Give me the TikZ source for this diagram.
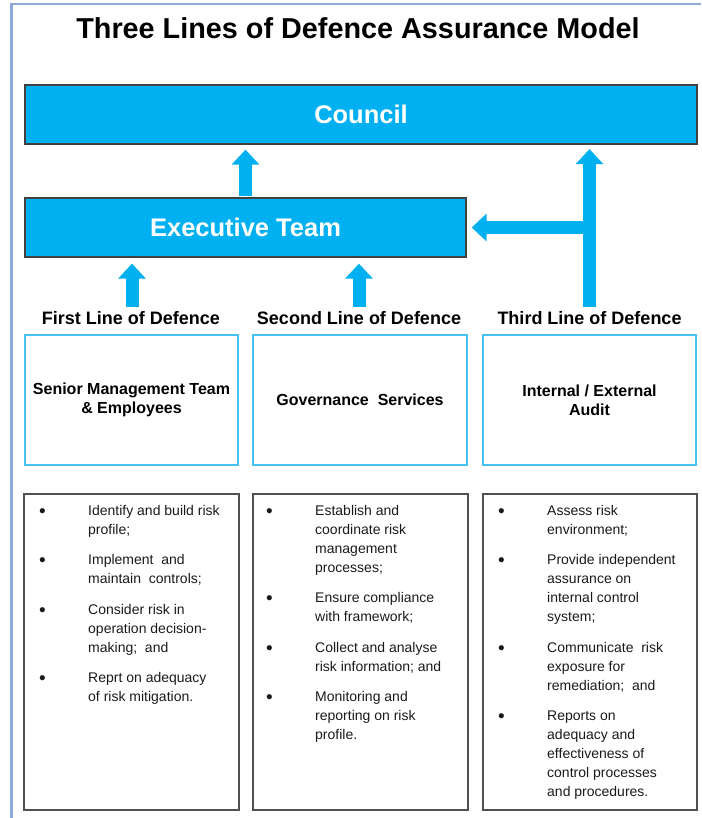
\documentclass[tikz,border=0pt]{standalone}
\usepackage{fontspec}
\setmainfont{Liberation Sans}
\usetikzlibrary{arrows.meta}
\definecolor{cblue}{HTML}{00B0F0}
\definecolor{lblue}{HTML}{45C2F2}
\definecolor{frame}{HTML}{8EA9DB}
\definecolor{dgrey}{HTML}{404040}
\definecolor{bgrey}{HTML}{505050}
\definecolor{txt}{HTML}{1A1A1A}
\newcommand{\bl}[1]{\makebox[49pt][l]{\raisebox{-2pt}{\fontsize{19}{19}\selectfont\textbullet}}#1}
\newcommand{\cl}[1]{\hspace*{49pt}#1}
\tikzset{
  bluebox/.style={draw=dgrey, line width=1.3pt, fill=cblue, text=white, inner sep=0pt,
    font=\fontsize{25.5}{30}\selectfont\bfseries},
  linebox/.style={draw=lblue, line width=1.4pt, inner sep=0pt, align=center,
    font=\fontsize{16}{19}\selectfont\bfseries, text=black},
  listbox/.style={draw=bgrey, line width=1.5pt, inner sep=0pt},
  linelabel/.style={inner sep=0pt, font=\fontsize{18}{21}\selectfont\bfseries, text=black},
  bullets/.style={anchor=north west, inner sep=0pt, align=left,
    font=\fontsize{14}{19}\selectfont, text=txt},
  fatarrow/.style={draw=cblue, line width=13pt,
    -{Triangle[width=27pt,length=15pt]}}
}
\begin{document}
\begin{tikzpicture}[x=1pt,y=-1pt]
\useasboundingbox (0,0) rectangle (701,818);
% outer frame
\draw[frame, line width=2.5pt] (11.5,818) -- (11.5,4) -- (701,4);
% title
\node[inner sep=0pt, font=\fontsize{28.8}{34}\selectfont\bfseries] (title) at (358,28.5)
  {Three Lines of Defence Assurance Model};
% main boxes
\node[bluebox, minimum width=672pt, minimum height=59pt] (council) at (361,114.5) {Council};
\node[bluebox, minimum width=441pt, minimum height=59pt] (exec) at (245.5,227.5) {Executive Team};
% line labels
\node[linelabel] (lab1) at (131,318) {First Line of Defence};
\node[linelabel] (lab2) at (359,318) {Second Line of Defence};
\node[linelabel] (lab3) at (589.5,318) {Third Line of Defence};
% line boxes
\node[linebox, minimum width=213pt, minimum height=130pt] (g1) at (131.5,400) {Senior Management Team\\\& Employees};
\node[linebox, minimum width=214pt, minimum height=130pt] (g2) at (360,400) {Governance\ \ Services};
\node[linebox, minimum width=213pt, minimum height=130pt] (g3) at (589.5,400) {Internal / External\\Audit};
% list boxes
\node[listbox, minimum width=215pt, minimum height=316pt] (p1) at (131.5,652) {};
\node[listbox, minimum width=215pt, minimum height=316pt] (p2) at (360.5,652) {};
\node[listbox, minimum width=214pt, minimum height=316pt] (p3) at (590,652) {};
% lists
\node[bullets] (t1) at (39,505) {%
\bl{Identify and build risk}\\
\cl{profile;}\\[11.5pt]
\bl{Implement\ \ and}\\
\cl{maintain\ \ controls;}\\[11.5pt]
\bl{Consider risk in}\\
\cl{operation decision-}\\
\cl{making;\ \ and}\\[11.5pt]
\bl{Reprt on adequacy}\\
\cl{of risk mitigation.}};
\node[bullets] (t2) at (266,505) {%
\bl{Establish and}\\
\cl{coordinate risk}\\
\cl{management}\\
\cl{processes;}\\[11.5pt]
\bl{Ensure compliance}\\
\cl{with framework;}\\[11.5pt]
\bl{Collect and analyse}\\
\cl{risk information; and}\\[11.5pt]
\bl{Monitoring and}\\
\cl{reporting on risk}\\
\cl{profile.}};
\node[bullets] (t3) at (498,505) {%
\bl{Assess risk}\\
\cl{environment;}\\[11.5pt]
\bl{Provide independent}\\
\cl{assurance on}\\
\cl{internal control}\\
\cl{system;}\\[11.5pt]
\bl{Communicate\ \ risk}\\
\cl{exposure for}\\
\cl{remediation;\ \ and}\\[11.5pt]
\bl{Reports on}\\
\cl{adequacy and}\\
\cl{effectiveness of}\\
\cl{control processes}\\
\cl{and procedures.}};
% arrow anchors
\coordinate (a1) at (132,307);
\coordinate (a2) at (359,307);
\coordinate (a3) at (589.5,307);
% arrows
\draw[fatarrow] ([yshift=1.5pt]exec.north) -- ([yshift=-5pt]exec.north |- council.south);
\draw[fatarrow] (a1) -- ([yshift=-6pt]a1 |- exec.south);
\draw[fatarrow] (a2) -- ([yshift=-6pt]a2 |- exec.south);
\draw[fatarrow] (a3) -- ([yshift=-4.5pt]a3 |- council.south);
\draw[fatarrow] (a3 |- exec.east) -- ([xshift=5pt]exec.east);
\end{tikzpicture}
\end{document}
